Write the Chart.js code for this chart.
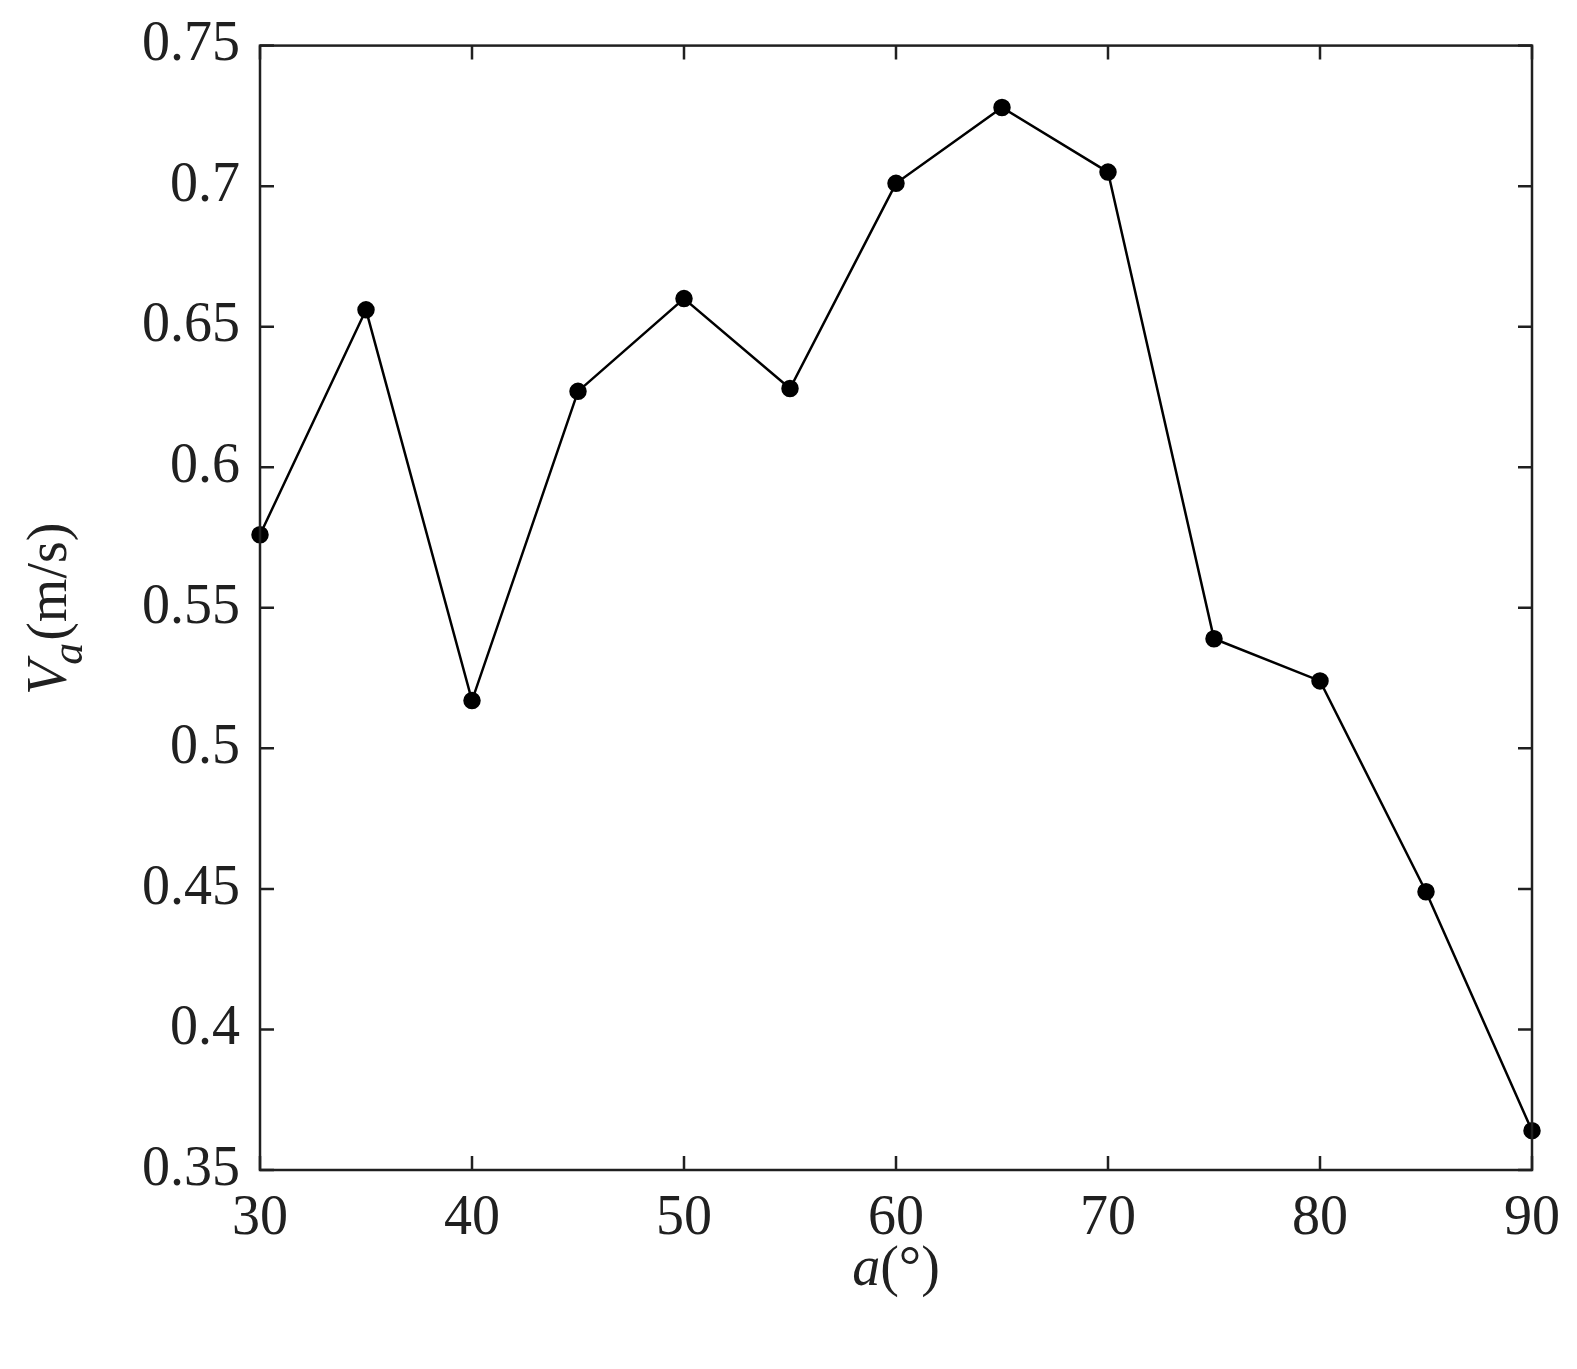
<!DOCTYPE html>
<html>
<head>
<script src="https://cdn.jsdelivr.net/npm/chart.js@4"></script>
<style>
  body { margin: 0; background: #fff; overflow: hidden; }
  canvas { display: block; }
</style>
</head>
<body>
<canvas id="canvas" width="1577" height="1369"></canvas>
<script>
const angles = [30, 35, 40, 45, 50, 55, 60, 65, 70, 75, 80, 85, 90];
const speeds = [0.576, 0.656, 0.517, 0.627, 0.660, 0.628, 0.701, 0.728, 0.705, 0.539, 0.524, 0.449, 0.364];
const xTicks = [30, 40, 50, 60, 70, 80, 90];
const yTicks = [0.35, 0.4, 0.45, 0.5, 0.55, 0.6, 0.65, 0.7, 0.75];

const FONT = "'Liberation Serif', 'Times New Roman', serif";
const INK = '#202020';

// box around the plot, inward ticks on all sides, axis titles
const framePlugin = {
  id: 'frame',
  afterDraw(chart) {
    const c = chart.ctx, a = chart.chartArea;
    const xs = chart.scales.x, ys = chart.scales.y;
    c.save();
    c.strokeStyle = INK;
    c.lineWidth = 2.5;
    c.strokeRect(a.left, a.top, a.right - a.left, a.bottom - a.top);
    const len = 14;
    c.beginPath();
    xTicks.forEach(v => {
      const x = xs.getPixelForValue(v);
      c.moveTo(x, a.bottom); c.lineTo(x, a.bottom - len);
      c.moveTo(x, a.top); c.lineTo(x, a.top + len);
    });
    yTicks.forEach(v => {
      const y = ys.getPixelForValue(v);
      c.moveTo(a.left, y); c.lineTo(a.left + len, y);
      c.moveTo(a.right, y); c.lineTo(a.right - len, y);
    });
    c.stroke();

    c.fillStyle = INK;
    c.textBaseline = 'alphabetic';
    // x title: a(°)
    c.font = 'italic 56px ' + FONT;
    const w1 = c.measureText('a').width;
    c.font = '56px ' + FONT;
    const w2 = c.measureText('(°)').width;
    let x0 = (a.left + a.right) / 2 - (w1 + w2) / 2;
    c.font = 'italic 56px ' + FONT;
    c.fillText('a', x0, 1285);
    c.font = '56px ' + FONT;
    c.fillText('(°)', x0 + w1, 1285);

    // y title: V_a (m/s), rotated
    c.translate(66, (a.top + a.bottom) / 2);
    c.rotate(-Math.PI / 2);
    c.font = 'italic 56px ' + FONT;
    const wv = c.measureText('V').width;
    c.font = 'italic 44px ' + FONT;
    const wa = c.measureText('a').width;
    c.font = '56px ' + FONT;
    const wm = c.measureText('(m/s)').width;
    let s = -(wv + wa + wm) / 2;
    c.font = 'italic 56px ' + FONT;
    c.fillText('V', s, 0);
    c.font = 'italic 44px ' + FONT;
    c.fillText('a', s + wv - 4, 16);
    c.font = '56px ' + FONT;
    c.fillText('(m/s)', s + wv + wa - 2, 0);
    c.restore();
  }
};

new Chart(document.getElementById('canvas'), {
  type: 'line',
  data: {
    datasets: [{
      data: angles.map((x, i) => ({ x: x, y: speeds[i] })),
      borderColor: '#000',
      backgroundColor: '#000',
      borderWidth: 2.5,
      pointRadius: 7.5,
      tension: 0,
      clip: false
    }]
  },
  plugins: [framePlugin],
  options: {
    responsive: false,
    animation: false,
    devicePixelRatio: 1,
    layout: { padding: { top: 43, right: 45, left: 0, bottom: 0 } },
    plugins: { legend: { display: false }, tooltip: { enabled: false } },
    scales: {
      x: {
        type: 'linear', min: 30, max: 90,
        afterBuildTicks(s) { s.ticks = xTicks.map(v => ({ value: v })); },
        afterFit(s) { s.height = 199; },
        grid: { display: false },
        border: { display: false },
        ticks: { color: INK, font: { family: FONT, size: 56 }, padding: 8, maxRotation: 0 }
      },
      y: {
        type: 'linear', min: 0.35, max: 0.75,
        afterBuildTicks(s) { s.ticks = yTicks.map(v => ({ value: v })); },
        afterFit(s) { s.width = 260; },
        grid: { display: false },
        border: { display: false },
        ticks: {
          color: INK, font: { family: FONT, size: 56 }, padding: 12,
          callback: v => String(+v.toFixed(2))
        }
      }
    }
  }
});
</script>
</body>
</html>
